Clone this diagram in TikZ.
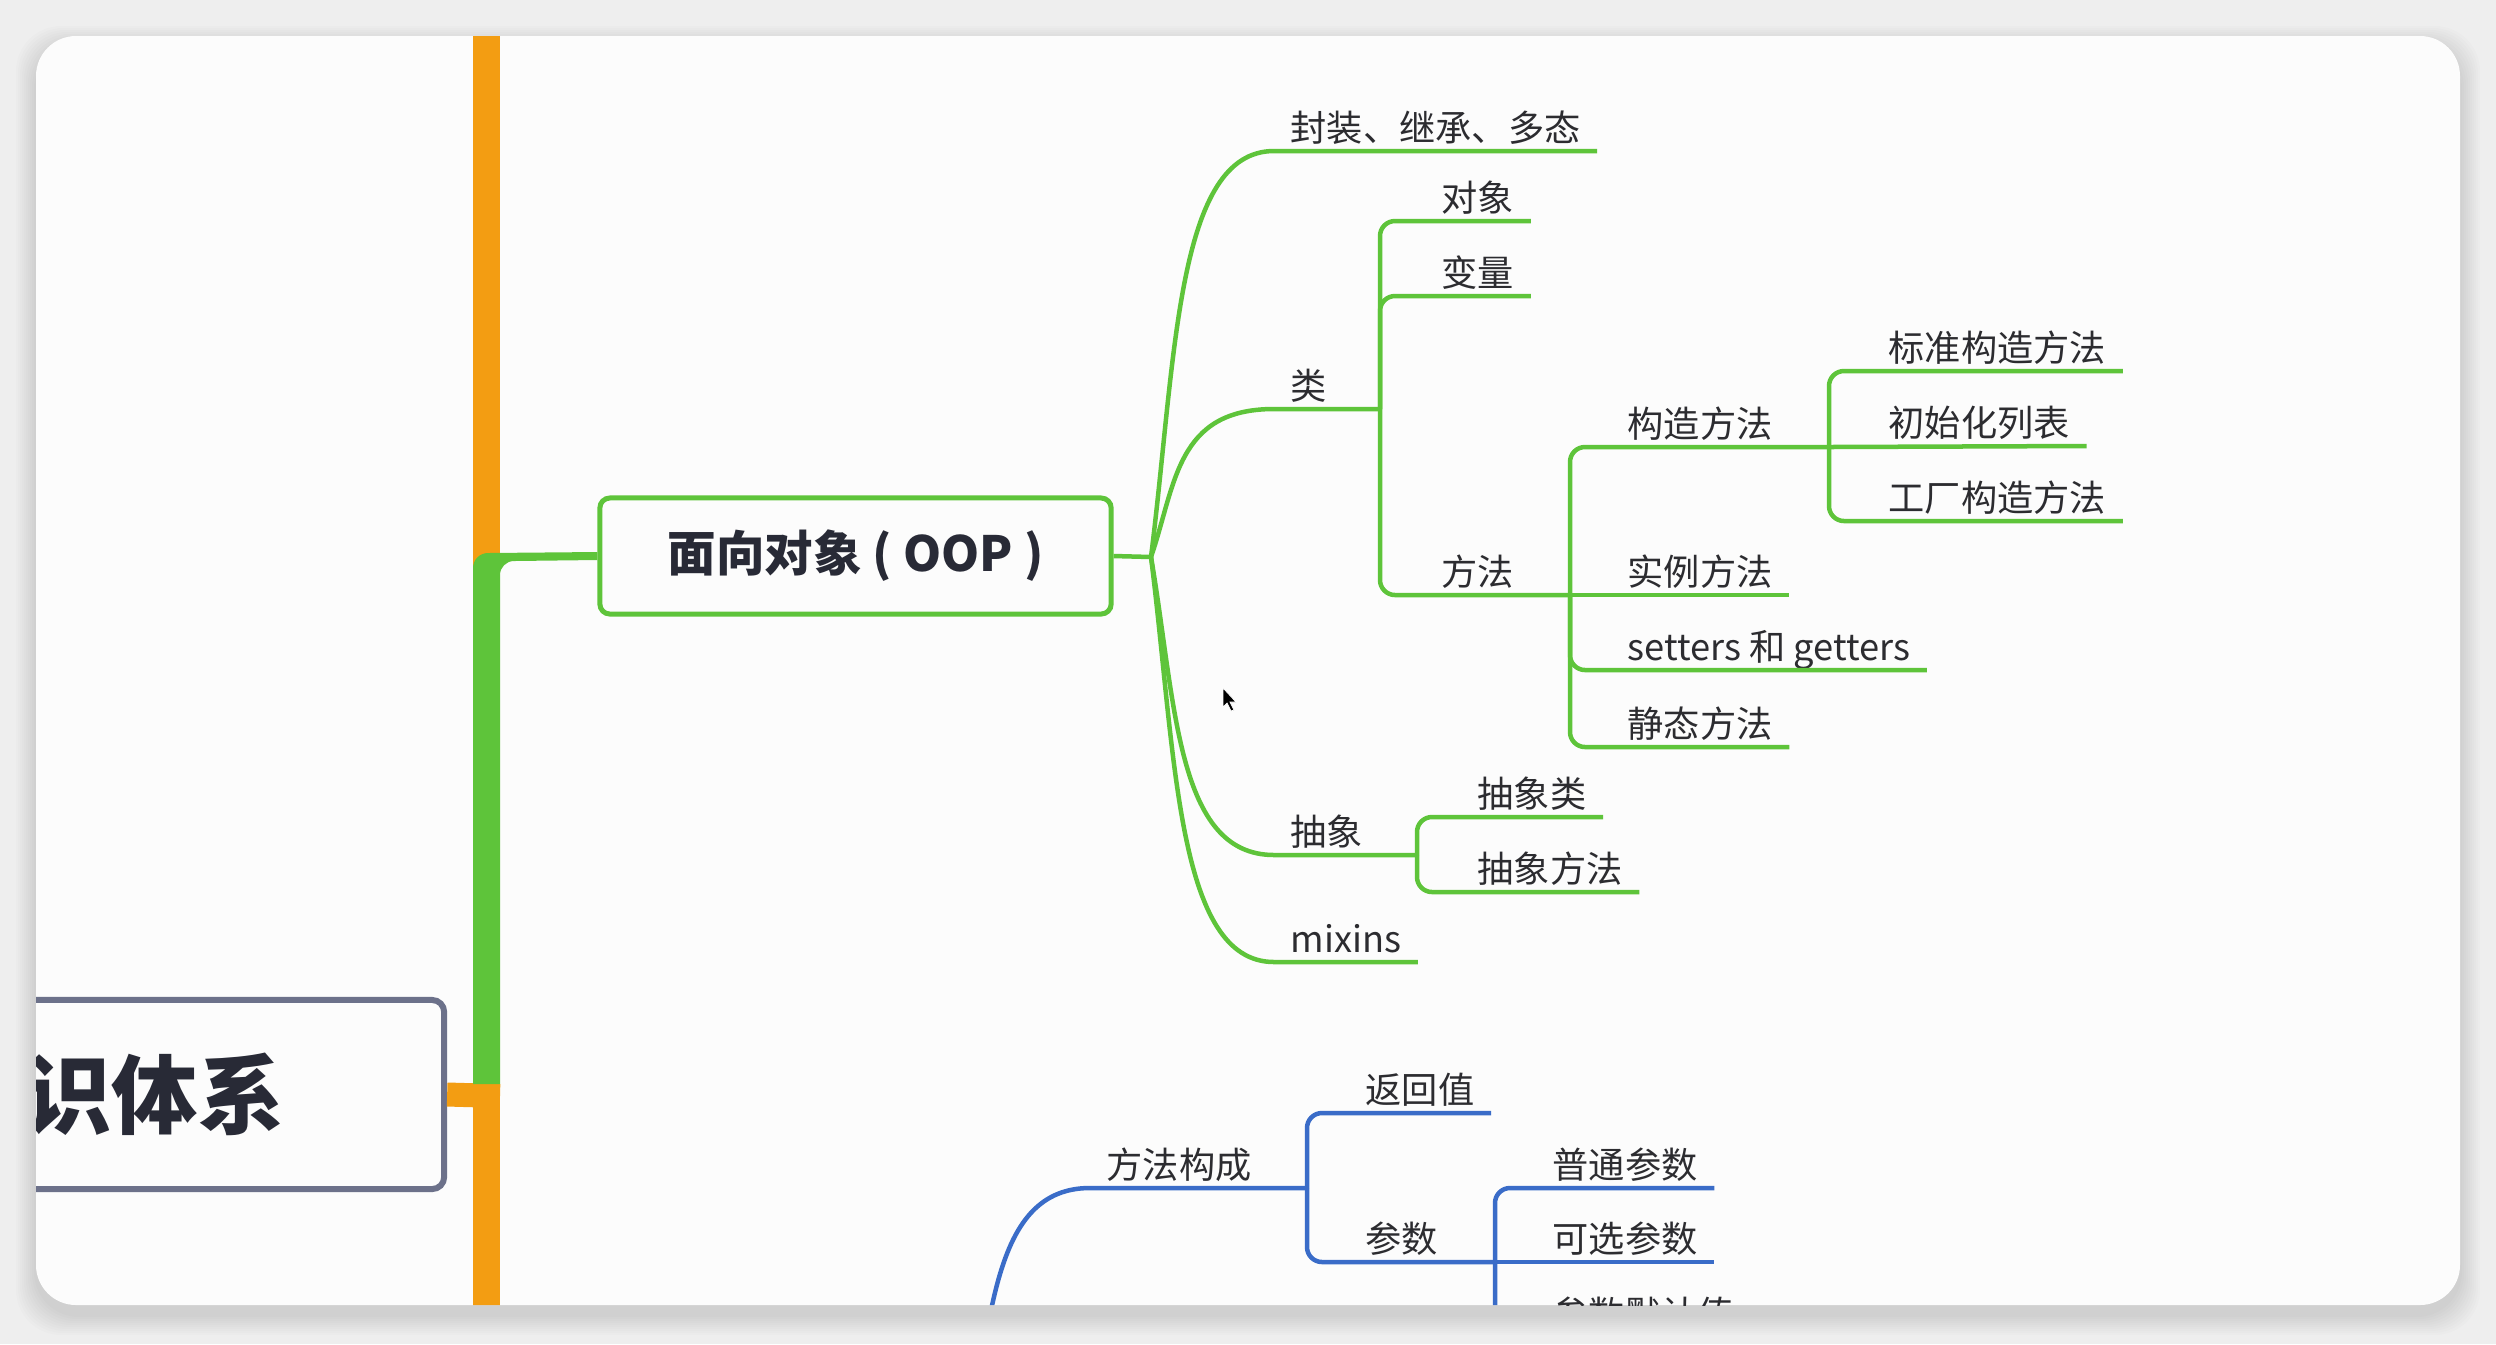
\documentclass[tikz,border=0pt]{standalone}
\usepackage{fontspec}
\setmainfont{Noto Sans CJK SC}
\usepackage{tikz}
\usetikzlibrary{calc}
\usetikzlibrary{positioning}

\definecolor{mapgreen}{RGB}{94,196,58}
\definecolor{maporange}{RGB}{243,157,18}
\definecolor{mapblue}{RGB}{58,108,200}
\definecolor{rootframe}{RGB}{108,113,138}
\definecolor{inktext}{RGB}{44,44,48}
\definecolor{titletext}{RGB}{40,42,54}
\definecolor{cardbg}{RGB}{252,252,252}
\definecolor{pagebg}{RGB}{238,238,238}

\begin{document}
\begin{tikzpicture}[x=0.01cm, y=-0.01cm,
    topic/.style={font=\fontsize{10.3}{12}\selectfont, text=inktext, anchor=south west,
                  inner xsep=0.16cm, inner ysep=0.085cm, text depth=0pt},
    gline/.style={draw=mapgreen, line width=0.045cm},
    bline/.style={draw=mapblue, line width=0.045cm},
    elbow/.style={rounded corners=0.15cm},
    oopbox/.style={draw=mapgreen, line width=0.05cm, rounded corners=0.1cm, fill=cardbg,
                   minimum width=5.11cm, minimum height=1.16cm, text=titletext,
                   font=\bfseries\fontsize{13.8}{16}\selectfont},
    rootbox/.style={draw=rootframe, line width=0.06cm, rounded corners=0.12cm, fill=cardbg,
                    minimum width=5.78cm, minimum height=1.89cm, text=titletext,
                    font=\bfseries\fontsize{24.5}{28}\selectfont}]
    \useasboundingbox (0,0) rectangle (2496,1344);
    \fill[pagebg] (0,0) rectangle (2496,1344);
    \foreach \s in {2,4,...,20}
        \fill[black, opacity=0.012, rounded corners=0.45cm] (36-\s,36-\s+10) rectangle (2460+\s,1305+\s+10);
    \fill[cardbg, rounded corners=0.4cm] (36,36) rectangle (2460,1305);

    \begin{scope}
    \clip[rounded corners=0.4cm] (36,36) rectangle (2460,1305);

    \node[rootbox] (root) at (155,1094.5) {识体系};
    \node[oopbox] (oop) at (855.5,556) {面向对象 ( OOP )};

    \draw[maporange, line width=0.27cm] (486.5,0) -- (486.5,1344);
    \draw[maporange, line width=0.24cm] (root.east) -- (500,1096);
    \fill[mapgreen] (473,1084) -- (473,568) to[out=90,in=180] (488,553) -- ($(oop.west)+(0,-4)$)
        -- ($(oop.west)+(0,4)$) -- (514,561) to[out=180,in=90] (500,575) -- (500,1084) -- cycle;

    \node[topic] (fz) at (1274,151) {封装、继承、多态};
    \node[topic] (lei) at (1274,409) {类};
    \node[topic] (cx) at (1274,855) {抽象};
    \node[topic] (mx) at (1274,962) {mixins};

    \node[topic] (dx) at (1425,221) {对象};
    \node[topic] (bl) at (1425,296) {变量};
    \node[topic] (ff) at (1425,595) {方法};

    \node[topic] (gz) at (1611,447) {构造方法};
    \node[topic] (sl) at (1611,595) {实例方法};
    \node[topic] (sg) at (1611,670) {setters 和 getters};
    \node[topic] (jt) at (1611,747) {静态方法};

    \node[topic] (bz) at (1872,371) {标准构造方法};
    \node[topic] (cs) at (1872,446) {初始化列表};
    \node[topic] (gc) at (1872,521) {工厂构造方法};

    \node[topic] (cxl) at (1461,817) {抽象类};
    \node[topic] (cxf) at (1461,892) {抽象方法};

    \node[topic] (ffgc) at (1090,1188) {方法构成};
    \node[topic] (fhz) at (1349,1113) {返回值};
    \node[topic] (cs2) at (1349,1262) {参数};
    \node[topic] (pt) at (1536,1188) {普通参数};
    \node[topic] (kx) at (1536,1262) {可选参数};
    \node[topic] (mr) at (1536,1337) {参数默认值};

    \coordinate (jOop) at (1151,557);
    \coordinate (jLei) at (1380,409);
    \coordinate (jFf) at (1570,595);
    \coordinate (jGz) at (1829,447);
    \coordinate (jCx) at (1417,855);
    \coordinate (jBlue) at (967,1448);
    \coordinate (jGc) at (1307,1188);
    \coordinate (jCs) at (1495,1262);

    \draw[gline] (oop.east) -- (jOop);
    \draw[gline] (jOop) .. controls ($(jOop)+(25,-199)$) and ($(fz.south west)+(-98,0)$) .. (fz.south west) -- (fz.south east);
    \draw[gline] (jOop) .. controls ($(jOop)+(25,-73)$) and ($(lei.south west)+(-98,0)$) .. (lei.south west) -- (jLei);
    \draw[gline] (jOop) .. controls ($(jOop)+(25,146)$) and ($(cx.south west)+(-98,0)$) .. (cx.south west) -- (jCx);
    \draw[gline] (jOop) .. controls ($(jOop)+(25,198)$) and ($(mx.south west)+(-98,0)$) .. (mx.south west) -- (mx.south east);

    \draw[gline, elbow] (jLei) |- (dx.south west) -- (dx.south east);
    \draw[gline, elbow] (jLei) |- (bl.south west) -- (bl.south east);
    \draw[gline, elbow] (jLei) |- (ff.south west) -- (jFf);

    \draw[gline, elbow] (jFf) |- (gz.south west) -- (jGz);
    \draw[gline] (jFf) -- (sl.south east);
    \draw[gline, elbow] (jFf) |- (sg.south west) -- (sg.south east);
    \draw[gline, elbow] (jFf) |- (jt.south west) -- (jt.south east);

    \draw[gline, elbow] (jGz) |- (bz.south west) -- (bz.south east);
    \draw[gline] (jGz) -- (cs.south east);
    \draw[gline, elbow] (jGz) |- (gc.south west) -- (gc.south east);

    \draw[gline, elbow] (jCx) |- (cxl.south west) -- (cxl.south east);
    \draw[gline, elbow] (jCx) |- (cxf.south west) -- (cxf.south east);

    \draw[bline] (jBlue) .. controls ($(jBlue)+(25,-127)$) and ($(ffgc.south west)+(-98,0)$) .. (ffgc.south west) -- (jGc);
    \draw[bline, elbow] (jGc) |- (fhz.south west) -- (fhz.south east);
    \draw[bline, elbow] (jGc) |- (cs2.south west) -- (jCs);
    \draw[bline, elbow] (jCs) |- (pt.south west) -- (pt.south east);
    \draw[bline] (jCs) -- (kx.south east);
    \draw[bline, elbow] (jCs) |- (mr.south west) -- (mr.south east);

    \fill[black, draw=white, line width=0.2pt] (1223,688) -- (1223,707) -- (1227,703) -- (1231,711)
        -- (1234,710) -- (1230,702) -- (1236,702) -- cycle;
    \end{scope}
\end{tikzpicture}
\end{document}
